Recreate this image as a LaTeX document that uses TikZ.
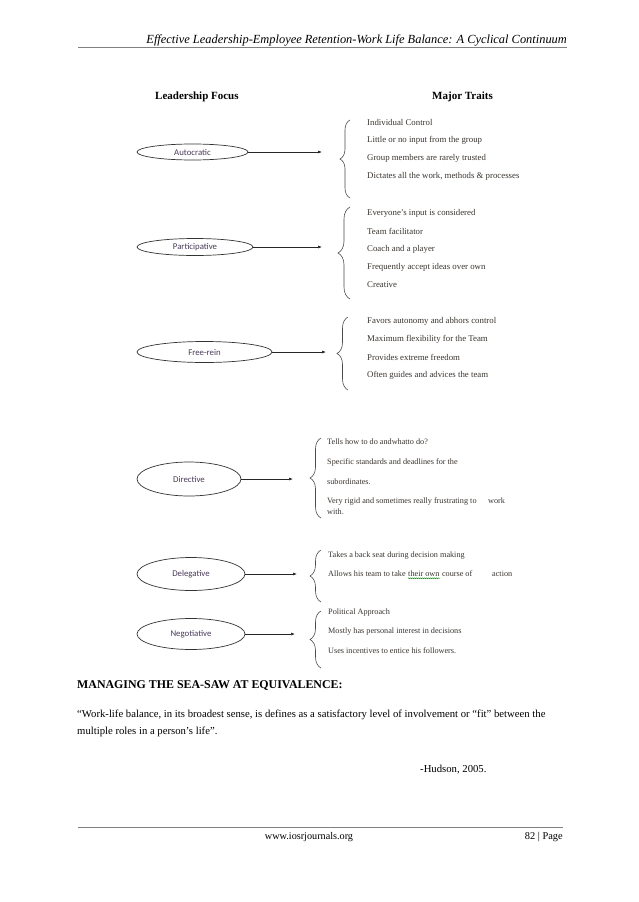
\documentclass[tikz,border=0pt]{standalone}
\usepackage{fontspec}
\setmainfont{Liberation Serif}
\newfontfamily\lblfont{Carlito}
\usetikzlibrary{shapes.geometric,decorations.pathreplacing,decorations.pathmorphing,arrows.meta}
\definecolor{traitcol}{HTML}{3A3530}
\definecolor{lblcol}{HTML}{4A3A5A}
\definecolor{rulecol}{HTML}{808080}
\tikzset{
  x=1pt,y=-1pt,
  lead/.style={ellipse,draw=black!80,line width=0.7pt,inner sep=0pt,font=\lblfont\fontsize{8.8}{10}\selectfont,text=lblcol},
  trait/.style={anchor=west,inner sep=0pt,font=\fontsize{8.8}{10}\selectfont,text=traitcol},
  traitb/.style={anchor=west,inner sep=0pt,font=\fontsize{8.2}{10}\selectfont,text=traitcol},
  arr/.style={-{Latex[length=4pt,width=3pt]},line width=0.6pt,black!85},
  brc/.style={decorate,decoration={brace,amplitude=#1},line width=0.6pt,black!70},
  brc/.default=9pt,
  hdr/.style={inner sep=0pt,font=\fontsize{11}{13}\selectfont\bfseries},
  body/.style={anchor=west,inner sep=0pt,font=\fontsize{10.7}{12}\selectfont},
  wavy/.style={green!55!black,line width=0.5pt,decorate,decoration={snake,amplitude=0.4pt,segment length=2pt}},
}
\begin{document}
\begin{tikzpicture}
\useasboundingbox[fill=white] (0,0) rectangle (638,902);
% running head
\node[anchor=base east,inner sep=0pt,font=\fontsize{12.4}{14}\selectfont\itshape] (runhead) at (567,43) {Effective Leadership-Employee Retention-Work Life Balance: A Cyclical Continuum};
\draw[rulecol,line width=0.8pt] (78,47) -- (567,47);
% column headers
\node[hdr,anchor=west] (colL) at (155,97) {Leadership Focus};
\node[hdr,anchor=west] (colR) at (432,97) {Major Traits};

% Autocratic
\node[lead,minimum width=111pt,minimum height=16pt] (auto) at (192.5,152) {Autocratic};
\coordinate (autoT) at (322,152);
\draw[arr] (auto.east) -- (autoT);
\draw[brc=10pt] (350,198) -- (350,120);
\node[trait] (a1) at (367,122) {Individual Control};
\node[trait] (a2) at (367,140) {Little or no input from the group};
\node[trait] (a3) at (367,158) {Group members are rarely trusted};
\node[trait] (a4) at (367,176) {Dictates all the work, methods \& processes};

% Participative
\node[lead,minimum width=116pt,minimum height=17pt] (part) at (195,247) {Participative};
\coordinate (partT) at (322,247);
\draw[arr] (part.east) -- (partT);
\draw[brc=12pt] (350,299) -- (350,207);
\node[trait] (p1) at (367,213) {Everyone’s input is considered};
\node[trait] (p2) at (367,231) {Team facilitator};
\node[trait] (p3) at (367,249) {Coach and a player};
\node[trait] (p4) at (367,267) {Frequently accept ideas over own};
\node[trait] (p5) at (367,285) {Creative};

% Free-rein
\node[lead,minimum width=135pt,minimum height=21pt] (free) at (204.5,352) {Free-rein};
\coordinate (freeT) at (326,352);
\draw[arr] (free.east) -- (freeT);
\draw[brc=11pt] (348,390) -- (348,317);
\node[trait] (f1) at (367,321) {Favors autonomy and abhors control};
\node[trait] (f2) at (367,339) {Maximum flexibility for the Team};
\node[trait] (f3) at (367,357) {Provides extreme freedom};
\node[trait] (f4) at (367,375) {Often guides and advices the team};

% Directive
\node[lead,minimum width=104pt,minimum height=34pt] (dir) at (189,479) {Directive};
\coordinate (dirT) at (293,479);
\draw[arr] (dir.east) -- (dirT);
\draw[brc=11pt] (321,518) -- (321,438);
\node[traitb] (d1) at (327,442) {Tells how to do andwhatto do?};
\node[traitb] (d2) at (327,462) {Specific standards and deadlines for the};
\node[traitb] (d3) at (327,482) {subordinates.};
\node[traitb] (d4) at (327,501) {Very rigid and sometimes really frustrating to};
\node[traitb] (d4b) at (488,501) {work};
\node[traitb] (d5) at (327,512) {with.};

% Delegative
\node[lead,minimum width=108pt,minimum height=33pt] (del) at (191,574) {Delegative};
\coordinate (delT) at (297,574);
\draw[arr] (del.east) -- (delT);
\draw[brc=11pt] (321,602) -- (321,550);
\node[traitb] (g1) at (328,556) {Takes a back seat during decision making};
\node[traitb] (g2a) at (328,574) {Allows his team to take};
\node[traitb,anchor=base west] (g2b) at ([xshift=2.2pt]g2a.base east) {their own};
\node[traitb,anchor=base west] (g2c) at ([xshift=2.2pt]g2b.base east) {course of};
\node[traitb] (g2d) at (492,574) {action};
\draw[wavy] ([yshift=-1.2pt]g2b.south west) -- ([yshift=-1.2pt]g2b.south east);

% Negotiative
\node[lead,minimum width=108pt,minimum height=31pt] (neg) at (191,634) {Negotiative};
\coordinate (negT) at (295,634);
\draw[arr] (neg.east) -- (negT);
\draw[brc=11pt] (321,668) -- (321,611);
\node[traitb] (n1) at (328,613) {Political Approach};
\node[traitb] (n2) at (328,632) {Mostly has personal interest in decisions};
\node[traitb] (n3) at (328,651) {Uses incentives to entice his followers.};

% Section text
\node[body,font=\fontsize{11.9}{13}\selectfont\bfseries] (sec) at (77,686) {MANAGING THE SEA-SAW AT EQUIVALENCE:};
\node[body] (q1) at (77,715) {“Work-life balance, in its broadest sense, is defines as a satisfactory level of involvement or “fit” between the};
\node[body] (q2) at (77,732) {multiple roles in a person’s life”.};
\node[body] (hud) at (420,770) {-Hudson, 2005.};

% footer
\draw[rulecol,line width=0.8pt] (78,827) -- (563,827);
\node[anchor=base,inner sep=0pt,font=\fontsize{10.2}{12}\selectfont] (url) at (309,839) {www.iosrjournals.org};
\node[anchor=base east,inner sep=0pt,font=\fontsize{10.4}{12}\selectfont] (pg) at (563,839) {82 | Page};
\end{tikzpicture}
\end{document}
